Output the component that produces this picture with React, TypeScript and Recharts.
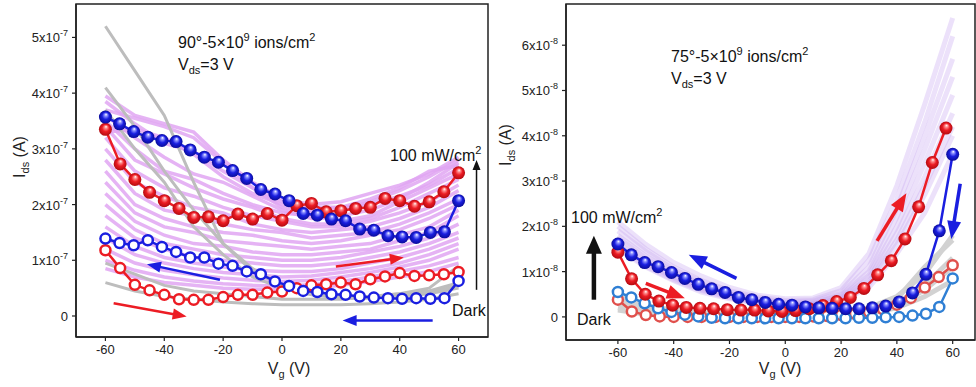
import React from 'react';
import { LineChart, Line, XAxis, YAxis, ReferenceLine, ReferenceArea } from 'recharts';

const FONT = '"Liberation Sans", Arial, sans-serif';

// gate voltage grids (V)
const vStep5 = [-60, -55, -50, -45, -40, -35, -30, -25, -20, -15, -10, -5, 0, 5, 10, 15, 20, 25, 30, 35, 40, 45, 50, 55, 60];
const vStep48 = [-60, -55.2, -50.4, -45.6, -40.8, -36, -31.2, -26.4, -21.6, -16.8, -12, -7.2, -2.4, 2.4, 7.2, 12, 16.8, 21.6, 26.4, 31.2, 36, 40.8, 45.6, 50.4, 55.2, 60];
const vStep49 = [-60, -55.1, -50.2, -45.3, -40.4, -35.5, -30.6, -25.7, -20.8, -15.9, -11, -6.1, -1.2, 3.7, 8.6, 13.5, 18.4, 23.3, 28.2, 33.1, 38, 42.9, 47.8, 52.7, 57.6];
const vStep10 = [-60, -50, -40, -30, -20, -10, 0, 10, 20, 30, 40, 50, 60];

// left panel: 90°, Ids in units of 1e-7 A
const aBlueFilled = [3.57, 3.45, 3.31, 3.21, 3.15, 3.13, 2.98, 2.85, 2.76, 2.61, 2.47, 2.27, 2.19, 2.07, 1.84, 1.81, 1.74, 1.71, 1.56, 1.54, 1.44, 1.42, 1.41, 1.5, 1.51, 2.07];
const aRedFilled = [3.35, 2.73, 2.45, 2.22, 2.07, 1.93, 1.77, 1.78, 1.71, 1.83, 1.74, 1.84, 1.72, 1.98, 2.02, 1.87, 1.89, 1.93, 1.95, 2.11, 2.07, 1.97, 2.05, 2.23, 2.57];
const aBlueOpen = [1.39, 1.31, 1.27, 1.36, 1.24, 1.15, 1.05, 1.05, 0.94, 0.9, 0.8, 0.75, 0.62, 0.54, 0.45, 0.43, 0.39, 0.38, 0.35, 0.33, 0.32, 0.31, 0.32, 0.31, 0.32, 0.63];
const aRedOpen = [1.18, 0.86, 0.56, 0.46, 0.38, 0.3, 0.29, 0.29, 0.34, 0.38, 0.38, 0.42, 0.44, 0.5, 0.55, 0.57, 0.6, 0.57, 0.66, 0.71, 0.77, 0.72, 0.73, 0.75, 0.79];
const aLightSweeps = [
  [3.95, 3.6, 3.45, 3.3, 2.8, 2.4, 2.1, 2.0, 2.05, 2.2, 2.35, 2.55, 2.85],
  [3.85, 3.45, 3.1, 2.95, 2.6, 2.3, 1.95, 1.85, 1.9, 2.05, 2.25, 2.5, 2.8],
  [3.7, 3.55, 3.4, 3.2, 2.75, 2.3, 2.05, 1.9, 1.95, 2.0, 2.15, 2.35, 2.65],
  [3.3, 3.35, 3.2, 2.9, 2.5, 2.2, 2.0, 1.95, 1.95, 2.1, 2.3, 2.6, 2.7],
  [3.6, 3.2, 2.85, 2.55, 2.4, 2.15, 1.9, 1.75, 1.8, 1.9, 2.1, 2.4, 2.75],
  [3.5, 3.0, 2.6, 2.45, 2.2, 2.0, 1.85, 1.8, 1.7, 1.8, 2.05, 2.3, 2.55],
  [3.4, 2.8, 2.55, 2.3, 2.1, 1.95, 1.75, 1.65, 1.65, 1.75, 1.95, 2.2, 2.45],
  [3.2, 2.6, 2.3, 2.15, 1.95, 1.8, 1.7, 1.6, 1.6, 1.7, 1.85, 2.05, 2.35],
  [3.0, 2.4, 2.15, 1.95, 1.85, 1.65, 1.55, 1.5, 1.55, 1.6, 1.75, 1.95, 2.25],
  [2.8, 2.2, 1.9, 1.8, 1.65, 1.55, 1.5, 1.4, 1.45, 1.5, 1.65, 1.85, 2.1],
  [2.6, 2.0, 1.75, 1.6, 1.5, 1.45, 1.35, 1.3, 1.35, 1.45, 1.55, 1.75, 2.0],
  [2.4, 1.85, 1.6, 1.5, 1.35, 1.3, 1.25, 1.2, 1.25, 1.3, 1.45, 1.6, 1.9],
  [2.2, 1.7, 1.45, 1.3, 1.25, 1.15, 1.1, 1.1, 1.15, 1.2, 1.35, 1.5, 1.8],
  [2.0, 1.55, 1.3, 1.2, 1.1, 1.05, 1.0, 1.0, 1.05, 1.15, 1.25, 1.4, 1.65],
  [1.8, 1.4, 1.2, 1.05, 1.0, 0.95, 0.9, 0.9, 0.95, 1.05, 1.15, 1.3, 1.5],
  [1.6, 1.25, 1.05, 0.95, 0.88, 0.82, 0.8, 0.8, 0.85, 0.95, 1.05, 1.2, 1.4],
  [1.4, 1.1, 0.95, 0.85, 0.78, 0.74, 0.7, 0.72, 0.78, 0.85, 0.95, 1.1, 1.3],
  [1.2, 0.95, 0.82, 0.74, 0.68, 0.64, 0.62, 0.64, 0.7, 0.78, 0.88, 1.0, 1.2],
  [1.0, 0.82, 0.7, 0.63, 0.58, 0.55, 0.54, 0.56, 0.62, 0.7, 0.8, 0.9, 1.05],
  [0.85, 0.7, 0.6, 0.55, 0.5, 0.48, 0.48, 0.5, 0.55, 0.62, 0.7, 0.8, 0.95],
];
const aDarkSweeps = [
  [5.2, 4.4, 3.6, 2.4, 1.3, 0.8, 0.55, 0.4, 0.35, 0.35, 0.35, 0.4, 0.5],
  [4.1, 3.4, 2.6, 1.9, 1.3, 0.85, 0.55, 0.4, 0.35, 0.35, 0.4, 0.45, 0.6],
  [3.7, 3.0, 2.4, 1.6, 1.1, 0.7, 0.5, 0.38, 0.32, 0.32, 0.36, 0.42, 0.55],
  [0.95, 0.75, 0.55, 0.45, 0.4, 0.35, 0.3, 0.3, 0.3, 0.35, 0.4, 0.5, 0.9],
  [0.6, 0.45, 0.35, 0.3, 0.25, 0.22, 0.2, 0.2, 0.2, 0.22, 0.25, 0.3, 0.4],
];

// right panel: 75°, Ids in units of 1e-8 A
const bRedFilled = [1.43, 0.84, 0.5, 0.35, 0.26, 0.21, 0.19, 0.18, 0.16, 0.15, 0.15, 0.13, 0.12, 0.14, 0.18, 0.25, 0.34, 0.43, 0.63, 0.93, 1.24, 1.72, 2.43, 3.41, 4.17];
const bBlueFilled = [1.61, 1.37, 1.2, 1.11, 0.98, 0.85, 0.72, 0.62, 0.54, 0.43, 0.38, 0.32, 0.28, 0.26, 0.22, 0.2, 0.19, 0.18, 0.18, 0.2, 0.24, 0.33, 0.53, 0.94, 1.9, 3.59];
const bBlueOpen = [0.55, 0.43, 0.3, 0.19, 0.11, 0.05, 0.01, -0.02, -0.03, -0.03, -0.03, -0.03, -0.03, -0.03, -0.03, -0.03, -0.03, -0.03, -0.02, -0.02, -0.01, 0.0, 0.03, 0.07, 0.22, 0.85];
const bRedOpen = [0.38, 0.12, 0.04, 0.01, 0, 0, 0, 0, 0, 0, 0, 0, 0, 0, 0.01, 0.02, 0.04, 0.07, 0.11, 0.17, 0.27, 0.42, 0.65, 0.88, 1.14];
const bLightSweeps = [
  [2.1, 1.6, 1.2, 0.9, 0.65, 0.48, 0.4, 0.42, 0.65, 1.4, 2.9, 4.7, 6.6],
  [2.0, 1.5, 1.1, 0.8, 0.58, 0.44, 0.36, 0.38, 0.58, 1.25, 2.6, 4.3, 6.2],
  [1.9, 1.45, 1.05, 0.78, 0.55, 0.4, 0.33, 0.35, 0.52, 1.1, 2.4, 4.0, 5.7],
  [1.8, 1.35, 1.0, 0.72, 0.52, 0.38, 0.3, 0.32, 0.48, 1.0, 2.2, 3.7, 5.3],
  [1.75, 1.3, 0.95, 0.68, 0.5, 0.36, 0.28, 0.3, 0.45, 0.92, 2.0, 3.4, 4.9],
  [1.65, 1.22, 0.9, 0.64, 0.47, 0.34, 0.27, 0.28, 0.42, 0.85, 1.85, 3.1, 4.5],
  [1.6, 1.18, 0.86, 0.6, 0.44, 0.32, 0.26, 0.27, 0.4, 0.78, 1.7, 2.9, 4.2],
  [1.55, 1.12, 0.82, 0.58, 0.42, 0.3, 0.25, 0.26, 0.38, 0.72, 1.6, 2.7, 4.0],
  [1.5, 1.1, 0.8, 0.55, 0.4, 0.3, 0.24, 0.25, 0.35, 0.65, 1.4, 2.3, 3.6],
];
const bDarkSweeps = [
  [0.45, 0.25, 0.15, 0.1, 0.08, 0.06, 0.05, 0.06, 0.1, 0.2, 0.45, 0.95, 1.8],
  [0.4, 0.2, 0.1, 0.06, 0.04, 0.03, 0.03, 0.04, 0.06, 0.16, 0.4, 1.1, 1.7],
  [0.3, 0.15, 0.08, 0.05, 0.04, 0.03, 0.03, 0.04, 0.06, 0.12, 0.3, 0.7, 1.3],
  [0.2, 0.1, 0.05, 0.03, 0.02, 0.02, 0.02, 0.03, 0.05, 0.1, 0.25, 0.6, 1.1],
  [0.15, 0.06, 0.03, 0.02, 0.02, 0.02, 0.02, 0.02, 0.04, 0.08, 0.2, 0.45, 0.8],
];

const xTicks = [-60, -40, -20, 0, 20, 40, 60];
const aYTicks = [0, 1, 2, 3, 4, 5];
const bYTicks = [0, 1, 2, 3, 4, 5, 6];

const RED = '#ec1c24';
const BLUE = '#1a1ee0';

const pts = (xs: number[], ys: number[]) => xs.map((x, i) => ({ x, y: ys[i] }));

const sciTick = (exp: number) => (p: any) => {
  const { x, y, payload } = p;
  return (
    <text x={x} y={y} dy={5} textAnchor="end" fontSize={13} fill="#222" fontFamily={FONT}>
      {payload.value === 0 ? '0' : `${payload.value}x10`}
      {payload.value !== 0 && (
        <tspan dy={-6} fontSize={9}>
          -{exp}
        </tspan>
      )}
    </text>
  );
};

const arrowShape = (color: string, w: number, head: number, half: number) => (p: any) => {
  const { x1, y1, x2, y2 } = p;
  const dx = x2 - x1;
  const dy = y2 - y1;
  const len = Math.hypot(dx, dy) || 1;
  const ux = dx / len;
  const uy = dy / len;
  const bx = x2 - ux * head;
  const by = y2 - uy * head;
  return (
    <g>
      <line x1={x1} y1={y1} x2={bx + ux} y2={by + uy} stroke={color} strokeWidth={w} />
      <polygon points={`${x2},${y2} ${bx - uy * half},${by + ux * half} ${bx + uy * half},${by - ux * half}`} fill={color} />
    </g>
  );
};

const sphere = (grad: string) => (p: any) => (
  <circle key={p.index} cx={p.cx} cy={p.cy} r={6.5} fill={`url(#${grad})`} />
);

type Arrow = { from: [number, number]; to: [number, number]; color: string; w: number; head: number; half: number };

const aArrows: Arrow[] = [
  { from: [-57.2, 0.23], to: [-32.4, -0.01], color: RED, w: 2.5, head: 14, half: 5.5 },
  { from: [-21.1, 0.65], to: [-45.9, 0.93], color: BLUE, w: 2.5, head: 14, half: 5.5 },
  { from: [18.3, 0.89], to: [41.4, 1.05], color: RED, w: 2.5, head: 14, half: 5.5 },
  { from: [51.2, -0.08], to: [20.6, -0.08], color: BLUE, w: 2.5, head: 14, half: 5.5 },
  { from: [66.1, 0.47], to: [66.1, 2.8], color: '#111', w: 1.5, head: 10, half: 4 },
];
const bArrows: Arrow[] = [
  { from: [-17.5, 0.85], to: [-34.6, 1.37], color: BLUE, w: 3.5, head: 18, half: 7 },
  { from: [-50, 0.74], to: [-36, 0.41], color: RED, w: 3.5, head: 18, half: 7 },
  { from: [32.9, 1.68], to: [43.4, 2.73], color: RED, w: 3.5, head: 18, half: 7 },
  { from: [62.7, 2.94], to: [59.5, 1.72], color: BLUE, w: 3.5, head: 18, half: 7 },
  { from: [-68.6, 0.38], to: [-68.6, 1.79], color: '#111', w: 4.5, head: 18, half: 8 },
];

type PanelProps = {
  id: string;
  width: number;
  xDomain: [number, number];
  yDomain: [number, number];
  yTicks: number[];
  exp: number;
  xAxisHeight: number;
  marginRight: number;
  light: number[][];
  lightColor: string;
  lightOpacity: number;
  lightWidth: number;
  dark: number[][];
  darkColor: string;
  darkWidth: number;
  darkOnTop: boolean;
  redOpen: { x: number; y: number }[];
  blueOpen: { x: number; y: number }[];
  redOpenColor: string;
  blueOpenColor: string;
  redFilled: { x: number; y: number }[];
  blueFilled: { x: number; y: number }[];
  arrows: Arrow[];
  xLabelX: number;
  yLabelX: number;
  yLabelY: number;
};

function Panel(p: PanelProps) {
  const axisStroke = { stroke: '#222', strokeWidth: 1.5 };
  const lightLines = p.light.map((ys, i) => (
    <Line
      key={`l${i}`}
      data={pts(vStep10, ys)}
      dataKey="y"
      stroke={p.lightColor}
      strokeOpacity={p.lightOpacity}
      strokeWidth={p.lightWidth}
      dot={false}
      activeDot={false}
      isAnimationActive={false}
    />
  ));
  const darkLines = p.dark.map((ys, i) => (
    <Line
      key={`d${i}`}
      data={pts(vStep10, ys)}
      dataKey="y"
      stroke={p.darkColor}
      strokeWidth={p.darkWidth}
      dot={false}
      activeDot={false}
      isAnimationActive={false}
    />
  ));
  return (
    <LineChart width={p.width} height={387} margin={{ top: 4, right: p.marginRight, bottom: 0, left: 0 }}>
      <defs>
        <radialGradient id={`${p.id}-red`} cx="50%" cy="50%" r="50%" fx="55%" fy="28%">
          <stop offset="0%" stopColor="#ffffff" />
          <stop offset="22%" stopColor="#ff8c8c" />
          <stop offset="55%" stopColor={RED} />
          <stop offset="100%" stopColor="#b30a10" />
        </radialGradient>
        <radialGradient id={`${p.id}-blue`} cx="50%" cy="50%" r="50%" fx="55%" fy="28%">
          <stop offset="0%" stopColor="#ffffff" />
          <stop offset="22%" stopColor="#8c90ff" />
          <stop offset="55%" stopColor={BLUE} />
          <stop offset="100%" stopColor="#0a0c9a" />
        </radialGradient>
      </defs>
      <XAxis
        type="number"
        dataKey="x"
        domain={p.xDomain}
        ticks={xTicks}
        allowDataOverflow
        height={p.xAxisHeight}
        tickSize={4}
        tickMargin={4}
        axisLine={axisStroke}
        tickLine={{ stroke: '#222', strokeWidth: 1.2 }}
        tick={{ fill: '#222', fontSize: 13, fontFamily: FONT }}
        label={{
          content: () => (
            <text x={p.xLabelX} y={374} textAnchor="middle" fontSize={16} fill="#222" fontFamily={FONT}>
              V<tspan dy={4} fontSize={11}>g</tspan>
              <tspan dy={-4}> (V)</tspan>
            </text>
          ),
        }}
      />
      <YAxis
        type="number"
        domain={p.yDomain}
        ticks={p.yTicks}
        allowDataOverflow
        width={76}
        tickSize={4}
        tickMargin={4}
        axisLine={axisStroke}
        tickLine={{ stroke: '#222', strokeWidth: 1.2 }}
        tick={sciTick(p.exp)}
        label={{
          content: () => (
            <text
              transform={`translate(${p.yLabelX},${p.yLabelY}) rotate(-90)`}
              textAnchor="middle"
              fontSize={16}
              fill="#222"
              fontFamily={FONT}
            >
              I<tspan dy={4} fontSize={11}>ds</tspan>
              <tspan dy={-4}> (A)</tspan>
            </text>
          ),
        }}
      />
      <ReferenceArea
        x1={p.xDomain[0]}
        x2={p.xDomain[1]}
        y1={p.yDomain[0]}
        y2={p.yDomain[1]}
        fill="none"
        stroke="#222"
        strokeWidth={1.5}
        ifOverflow="visible"
      />
      {p.darkOnTop ? lightLines : darkLines}
      {p.darkOnTop ? darkLines : lightLines}
      <Line
        data={p.redOpen}
        dataKey="y"
        stroke={p.redOpenColor}
        strokeWidth={2.5}
        dot={{ r: 5, fill: '#fff', stroke: p.redOpenColor, strokeWidth: 2.5 }}
        activeDot={false}
        isAnimationActive={false}
      />
      <Line
        data={p.blueOpen}
        dataKey="y"
        stroke={p.blueOpenColor}
        strokeWidth={2.5}
        dot={{ r: 5, fill: '#fff', stroke: p.blueOpenColor, strokeWidth: 2.5 }}
        activeDot={false}
        isAnimationActive={false}
      />
      <Line
        data={p.redFilled}
        dataKey="y"
        stroke={RED}
        strokeWidth={2.5}
        dot={sphere(`${p.id}-red`)}
        activeDot={false}
        isAnimationActive={false}
      />
      <Line
        data={p.blueFilled}
        dataKey="y"
        stroke={BLUE}
        strokeWidth={2.5}
        dot={sphere(`${p.id}-blue`)}
        activeDot={false}
        isAnimationActive={false}
      />
      {p.arrows.map((a, i) => (
        <ReferenceLine
          key={`a${i}`}
          segment={[
            { x: a.from[0], y: a.from[1] },
            { x: a.to[0], y: a.to[1] },
          ]}
          ifOverflow="visible"
          shape={arrowShape(a.color, a.w, a.head, a.half)}
        />
      ))}
    </LineChart>
  );
}

const txt = { fontSize: 16, fill: '#111', fontFamily: FONT } as const;

export default function App() {
  return (
    <div style={{ position: 'fixed', left: 0, top: 0, width: 976, height: 387, overflow: 'hidden', background: '#fff' }}>
      <div style={{ position: 'absolute', left: 0, top: 0 }}>
        <Panel
          id="pa"
          width={490}
          xDomain={[-70, 70]}
          yDomain={[-0.377, 5.6]}
          yTicks={aYTicks}
          exp={7}
          xAxisHeight={50}
          marginRight={2}
          light={aLightSweeps}
          lightColor="#e0a6f2"
          lightOpacity={0.85}
          lightWidth={3.5}
          dark={aDarkSweeps}
          darkColor="#bdbdbd"
          darkWidth={3}
          darkOnTop
          redOpen={pts(vStep5, aRedOpen)}
          blueOpen={pts(vStep48, aBlueOpen)}
          redOpenColor={RED}
          blueOpenColor={BLUE}
          redFilled={pts(vStep5, aRedFilled)}
          blueFilled={pts(vStep48, aBlueFilled)}
          arrows={aArrows}
          xLabelX={289}
          yLabelX={25}
          yLabelY={157}
        />
      </div>
      <div style={{ position: 'absolute', left: 490, top: 0 }}>
        <Panel
          id="pb"
          width={486}
          xDomain={[-78.6, 68]}
          yDomain={[-0.51, 6.91]}
          yTicks={bYTicks}
          exp={8}
          xAxisHeight={47}
          marginRight={1}
          light={bLightSweeps}
          lightColor="#c6a4f0"
          lightOpacity={0.33}
          lightWidth={5}
          dark={bDarkSweeps}
          darkColor="#d2d2d2"
          darkWidth={5}
          darkOnTop={false}
          redOpen={pts(vStep5, bRedOpen)}
          blueOpen={pts(vStep48, bBlueOpen)}
          redOpenColor="#e0504c"
          blueOpenColor="#2f7fd4"
          redFilled={pts(vStep49, bRedFilled)}
          blueFilled={pts(vStep48, bBlueFilled)}
          arrows={bArrows}
          xLabelX={290}
          yLabelX={21}
          yLabelY={145}
        />
      </div>
      <svg width={976} height={387} style={{ position: 'absolute', left: 0, top: 0, pointerEvents: 'none' }}>
        <text x={178} y={48} {...txt}>
          90°-5×10<tspan dy={-7} fontSize={11}>9</tspan>
          <tspan dy={7}> ions/cm</tspan>
          <tspan dy={-7} fontSize={11}>2</tspan>
        </text>
        <text x={178} y={70} {...txt}>
          V<tspan dy={4} fontSize={11}>ds</tspan>
          <tspan dy={-4}>=3 V</tspan>
        </text>
        <text x={390} y={161} {...txt}>
          100 mW/cm<tspan dy={-7} fontSize={11}>2</tspan>
        </text>
        <text x={452} y={316} {...txt}>Dark</text>
        <text x={671} y={62} {...txt}>
          75°-5×10<tspan dy={-7} fontSize={11}>9</tspan>
          <tspan dy={7}> ions/cm</tspan>
          <tspan dy={-7} fontSize={11}>2</tspan>
        </text>
        <text x={671} y={84} {...txt}>
          V<tspan dy={4} fontSize={11}>ds</tspan>
          <tspan dy={-4}>=3 V</tspan>
        </text>
        <text x={571} y={223} {...txt}>
          100 mW/cm<tspan dy={-7} fontSize={11}>2</tspan>
        </text>
        <text x={577} y={325} {...txt}>Dark</text>
      </svg>
    </div>
  );
}
